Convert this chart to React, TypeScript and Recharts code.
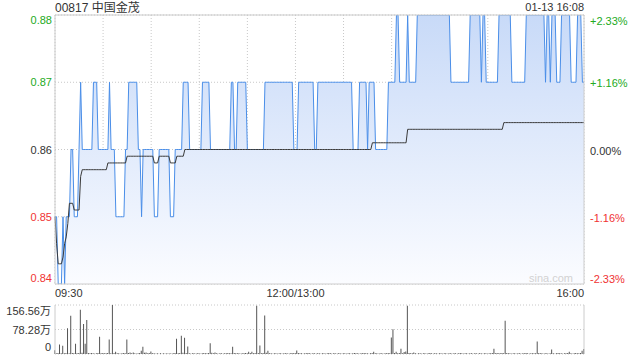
import React from 'react';
import {
  ComposedChart,
  Area,
  Line,
  XAxis,
  YAxis,
  CartesianGrid,
  ReferenceLine,
  BarChart,
  Bar,
} from 'recharts';

const FONT = "'Liberation Sans', Arial, 'Noto Sans CJK SC', sans-serif";

const stockTitle = '00817 中国金茂';
const stampText = '01-13 16:08';
const watermark = 'sina.com';
const prevClose = 0.86;

const priceTicks = [0.84, 0.85, 0.86, 0.87, 0.88];
const minuteTicks = [0, 30, 60, 90, 120, 150, 180, 210, 240, 270, 300, 330];
const timeLabels: Record<number, string> = { 0: '09:30', 150: '12:00/13:00', 330: '16:00' };
const volTicks = [0, 78.28, 156.56];
const volTickLabels = ['0', '78.28万', '156.56万'];

// minute price, as runs: level + number of minutes
const priceLevels = [
  0.85, 0.84, 0.85, 0.84, 0.85, 0.86, 0.85, 0.86, 0.87, 0.86,
  0.87, 0.86, 0.87, 0.86, 0.85, 0.86, 0.87, 0.86, 0.85, 0.86,
  0.85, 0.86, 0.85, 0.86, 0.87, 0.86, 0.87, 0.86, 0.87, 0.86,
  0.87, 0.86, 0.87, 0.86, 0.87, 0.86, 0.87, 0.86, 0.87, 0.86,
  0.87, 0.86, 0.87, 0.88, 0.87, 0.88, 0.87, 0.88, 0.87, 0.88,
  0.87, 0.88, 0.87, 0.88, 0.87, 0.88, 0.87, 0.88, 0.87, 0.88,
  0.87, 0.88, 0.87, 0.88, 0.87,
];
const priceRunLengths = [
  2, 3, 1, 1, 3, 2, 3, 1, 1, 7,
  3, 7, 1, 3, 6, 2, 6, 2, 1, 7,
  3, 7, 3, 5, 4, 8, 5, 13, 2, 2,
  6, 11, 18, 3, 10, 2, 22, 4, 5, 1,
  4, 8, 5, 2, 5, 1, 5, 21, 12, 7,
  1, 2, 8, 8, 9, 12, 1, 2, 1, 3,
  3, 6, 4, 3, 2,
];

// running average price, as runs
const avgLevels = [
  0.85, 0.846, 0.843, 0.844, 0.846, 0.847, 0.849, 0.852, 0.851, 0.856,
  0.857, 0.858, 0.859, 0.858, 0.859, 0.858, 0.859, 0.86, 0.861, 0.863, 0.864,
];
const avgRunLengths = [
  1, 1, 3, 1, 1, 1, 1, 3, 4, 1,
  16, 12, 17, 3, 7, 4, 5, 117, 22, 60, 51,
];

// minute volume (万股)
const volumes = [
  12, 2, 3, 30, 2, 26, 2, 3, 82, 2, 122, 3, 2, 33, 2, 3, 141, 4, 96, 33, 109, 3, 2, 3, 2, 1, 2, 3, 55, 2,
  3, 2, 2, 3, 46, 2, 156.56, 3, 7, 2, 2, 1, 2, 3, 2, 46, 3, 5, 2, 5, 2, 1, 2, 3, 10, 23, 4, 5, 2, 3,
  8, 2, 2, 1, 2, 1, 2, 1, 2, 1, 2, 1, 2, 1, 2, 3, 49, 2, 3, 58, 4, 52, 3, 24, 2, 1, 2, 2, 1, 2,
  2, 1, 2, 3, 2, 2, 3, 34, 4, 2, 5, 2, 1, 2, 2, 1, 2, 2, 3, 2, 2, 23, 3, 2, 2, 2, 1, 2, 2, 3,
  2, 7, 3, 7, 2, 3, 154, 3, 27, 2, 3, 123, 4, 10, 2, 2, 1, 2, 2, 1, 2, 2, 1, 2, 2, 2, 1, 2, 3, 2,
  3, 11, 3, 2, 2, 1, 2, 2, 3, 2, 1, 2, 2, 1, 2, 2, 1, 2, 2, 1, 2, 3, 2, 1, 2, 2, 1, 2, 2, 1,
  2, 2, 1, 2, 2, 1, 2, 3, 2, 2, 1, 2, 2, 3, 2, 2, 1, 2, 3, 7, 2, 2, 1, 2, 2, 1, 2, 2, 3, 2,
  53, 79, 3, 7, 2, 3, 17, 2, 6, 8, 154, 3, 2, 2, 5, 2, 1, 2, 2, 1, 2, 2, 1, 2, 3, 2, 1, 2, 2, 1,
  2, 2, 1, 2, 2, 1, 2, 2, 1, 2, 2, 1, 2, 3, 2, 1, 2, 2, 1, 2, 2, 1, 2, 2, 1, 2, 2, 1, 2, 2,
  1, 2, 2, 3, 17, 2, 3, 2, 2, 3, 2, 106, 3, 2, 2, 1, 2, 2, 1, 2, 2, 1, 2, 2, 3, 2, 1, 2, 2, 2,
  2, 40, 3, 2, 2, 1, 2, 2, 1, 2, 14, 2, 1, 2, 3, 2, 2, 1, 2, 2, 3, 7, 2, 1, 2, 3, 2, 2, 3, 10,
  16,
];

const expandRuns = (levels: number[], lengths: number[]) => {
  const out: number[] = [];
  levels.forEach((v, i) => {
    for (let k = 0; k < lengths[i]; k++) out.push(v);
  });
  return out;
};

const prices = expandRuns(priceLevels, priceRunLengths);
const avgs = expandRuns(avgLevels, avgRunLengths);

const data = volumes.map((v, i) => ({ m: i, price: prices[i], avg: avgs[i], vol: v }));

const GREEN = '#22aa22';
const RED = '#f03333';
const DARK = '#333333';

const levelColor = (v: number) =>
  Math.abs(v - prevClose) < 1e-9 ? DARK : v > prevClose ? GREEN : RED;

const edgeDy = (v: number) => {
  if (Math.abs(v - 0.88) < 1e-9) return 9;
  if (Math.abs(v - 0.84) < 1e-9) return -2;
  return 4;
};

const PriceTick = (props: any) => {
  const { x, y, payload } = props;
  const v = payload.value as number;
  return (
    <text x={x} y={y} dy={edgeDy(v)} textAnchor="end" fontSize={11} fill={levelColor(v)} fontFamily={FONT}>
      {v.toFixed(2)}
    </text>
  );
};

const PctTick = (props: any) => {
  const { x, y, payload } = props;
  const v = payload.value as number;
  const pct = ((v - prevClose) / prevClose) * 100;
  const label = (pct > 0.0001 ? '+' : '') + pct.toFixed(2) + '%';
  return (
    <text x={x} y={y} dy={edgeDy(v) + 1} textAnchor="start" fontSize={11} fill={levelColor(v)} fontFamily={FONT}>
      {label}
    </text>
  );
};

const TimeTick = (props: any) => {
  const { x, y, payload } = props;
  const v = payload.value as number;
  const label = timeLabels[v];
  if (!label) return <g />;
  const anchor = v === 0 ? 'start' : v === 330 ? 'end' : 'middle';
  return (
    <text x={x} y={y} dy={13} textAnchor={anchor} fontSize={11} fill={DARK} fontFamily={FONT}>
      {label}
    </text>
  );
};

const VolTick = (props: any) => {
  const { x, y, payload } = props;
  const v = payload.value as number;
  const idx = volTicks.indexOf(v);
  const dy = idx === 2 ? 10 : idx === 0 ? -3 : 4;
  return (
    <text x={x} y={y} dy={dy} textAnchor="end" fontSize={11} fill={DARK} fontFamily={FONT}>
      {volTickLabels[idx]}
    </text>
  );
};

export default function App() {
  return (
    <div
      style={{
        position: 'absolute',
        left: 0,
        top: 0,
        width: 640,
        height: 360,
        background: '#ffffff',
        fontFamily: FONT,
        overflow: 'hidden',
      }}
    >
      <div style={{ position: 'absolute', left: 0, top: 0 }}>
        <ComposedChart width={640} height={300} data={data} margin={{ top: 15, right: 0, bottom: 0, left: 0 }}>
          <defs>
            <linearGradient id="priceFill" x1="0" y1="0" x2="0" y2="1">
              <stop offset="0%" stopColor="#c8daf8" stopOpacity={1} />
              <stop offset="100%" stopColor="#fbfcff" stopOpacity={1} />
            </linearGradient>
          </defs>
          <CartesianGrid yAxisId="p" stroke="#c8c8c8" strokeDasharray="1 2" />
          <XAxis
            dataKey="m"
            type="number"
            domain={[0, 330]}
            ticks={minuteTicks}
            interval={0}
            height={16}
            axisLine={{ stroke: '#cccccc' }}
            tickLine={false}
            tickSize={0}
            tickMargin={0}
            tick={<TimeTick />}
          />
          <YAxis
            yAxisId="p"
            domain={[0.84, 0.88]}
            ticks={priceTicks}
            interval={0}
            width={55}
            axisLine={{ stroke: '#cccccc' }}
            tickLine={false}
            tickSize={0}
            tickMargin={3}
            tick={<PriceTick />}
            allowDataOverflow
          />
          <YAxis
            yAxisId="r"
            orientation="right"
            domain={[0.84, 0.88]}
            ticks={priceTicks}
            interval={0}
            width={56}
            axisLine={{ stroke: '#cccccc' }}
            tickLine={false}
            tickSize={0}
            tickMargin={6}
            tick={<PctTick />}
            allowDataOverflow
          />
          <ReferenceLine yAxisId="p" y={0.88} stroke="#cccccc" />
          <Area
            yAxisId="p"
            dataKey="price"
            type="linear"
            stroke="#4a8ee8"
            strokeWidth={1}
            fill="url(#priceFill)"
            fillOpacity={1}
            dot={false}
            activeDot={false}
            isAnimationActive={false}
          />
          <Line
            yAxisId="p"
            dataKey="avg"
            type="linear"
            stroke="#3a3a3a"
            strokeWidth={1}
            dot={false}
            activeDot={false}
            isAnimationActive={false}
          />
          <Line
            yAxisId="r"
            dataKey="avg"
            stroke="none"
            dot={false}
            activeDot={false}
            isAnimationActive={false}
            legendType="none"
          />
        </ComposedChart>
      </div>
      <div style={{ position: 'absolute', left: 0, top: 300 }}>
        <BarChart width={640} height={60} data={data} margin={{ top: 5, right: 0, bottom: 6, left: 0 }}>
          <CartesianGrid stroke="#c8c8c8" strokeDasharray="1 2" vertical={false} />
          <XAxis dataKey="m" type="number" domain={[0, 330]} hide />
          <YAxis
            domain={[0, 156.56]}
            ticks={volTicks}
            interval={0}
            width={55}
            axisLine={{ stroke: '#cccccc' }}
            tickLine={false}
            tickSize={0}
            tickMargin={4}
            tick={<VolTick />}
            allowDataOverflow
          />
          <YAxis
            yAxisId="vr"
            orientation="right"
            domain={[0, 156.56]}
            width={56}
            axisLine={{ stroke: '#cccccc' }}
            tickLine={false}
            tick={false}
          />
          <Bar dataKey="vol" fill="#555555" barSize={1} isAnimationActive={false} />
        </BarChart>
      </div>
      <svg
        width={640}
        height={360}
        style={{ position: 'absolute', left: 0, top: 0, pointerEvents: 'none' }}
      >
        <text x={55} y={12} fontSize={12} fill={DARK} fontFamily={FONT}>
          {stockTitle}
        </text>
        <text x={584} y={11} fontSize={11} fill={DARK} textAnchor="end" fontFamily={FONT}>
          {stampText}
        </text>
        <text x={573} y={282} fontSize={11} fill="#d2d2d2" textAnchor="end" fontFamily={FONT}>
          {watermark}
        </text>
      </svg>
    </div>
  );
}
